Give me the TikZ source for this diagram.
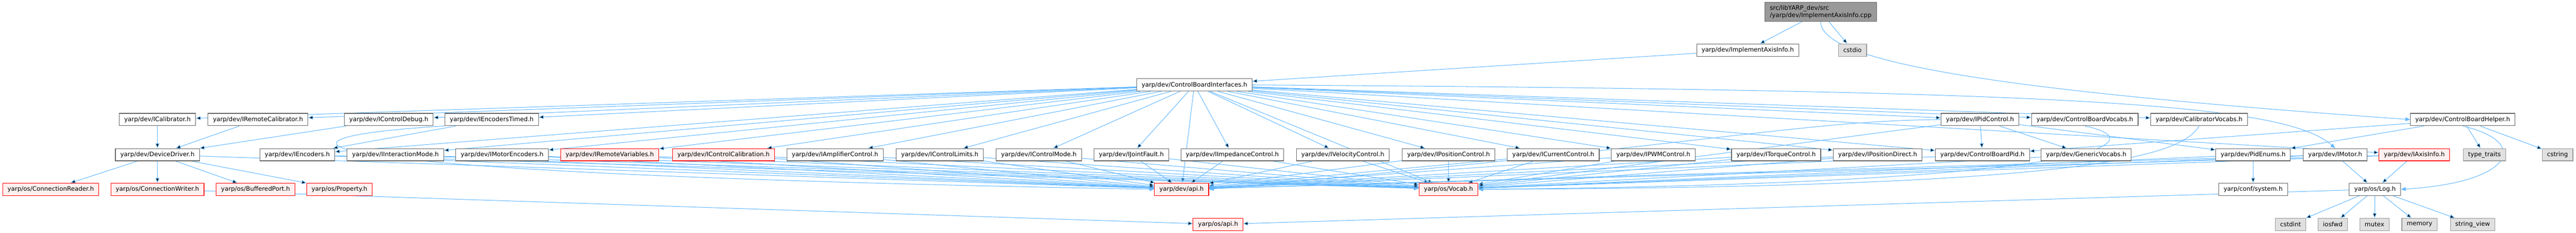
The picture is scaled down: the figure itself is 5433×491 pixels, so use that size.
\documentclass[tikz,border=0pt]{standalone}
\usepackage{fontspec}
\setmainfont{DejaVu Sans}
\usetikzlibrary{arrows.meta,backgrounds}

\definecolor{edgeblue}{HTML}{63B8FF}
\definecolor{boxgray}{HTML}{666666}
\definecolor{truncred}{HTML}{FF0000}
\definecolor{truncfill}{HTML}{FFF0F0}
\definecolor{sysgray}{HTML}{999999}
\definecolor{sysfill}{HTML}{E0E0E0}
\definecolor{rootfill}{HTML}{999999}

% one unit of the picture is one pixel of the reference, drawn at a quarter size
\tikzset{
  hdr/.style={draw=boxgray,fill=white,line width=0.3pt,rectangle,
    minimum height=6.5pt,inner xsep=2.6pt,inner ysep=0pt,
    font=\fontsize{3.225}{3.9}\selectfont},
  trunc/.style={hdr,draw=truncred,fill=truncfill},
  sys/.style={hdr,draw=sysgray,fill=sysfill},
  root/.style={hdr,fill=rootfill,align=left,minimum height=10pt},
  dep/.style={draw=edgeblue,line width=0.28pt,-{Triangle[length=2.5pt,width=2pt]}},
}

\begin{document}
\begin{tikzpicture}[x=0.25pt,y=-0.25pt]
\useasboundingbox (0,0) rectangle (5433,491);

% top
\node[root] (cpp) at (3840,25) {src/libYARP\_dev/src\\/yarp/dev/ImplementAxisInfo.cpp};
\node[hdr] (implaxis) at (3686,105.5) {yarp/dev/ImplementAxisInfo.h};
\node[sys] (cstdio) at (3907,105.5) {cstdio};
\node[hdr] (cbi) at (2519,179) {yarp/dev/ControlBoardInterfaces.h};

% row 3
\node[hdr] (icalib) at (332,252) {yarp/dev/ICalibrator.h};
\node[hdr] (iremcalib) at (544,252) {yarp/dev/IRemoteCalibrator.h};
\node[hdr] (ictrldebug) at (820,252) {yarp/dev/IControlDebug.h};
\node[hdr] (iencodtimed) at (1037,252) {yarp/dev/IEncodersTimed.h};
\node[hdr] (ipidctrl) at (4176,252) {yarp/dev/IPidControl.h};
\node[hdr] (cbvocabs) at (4397,252) {yarp/dev/ControlBoardVocabs.h};
\node[hdr] (calibvocabs) at (4638,252) {yarp/dev/CalibratorVocabs.h};
\node[hdr] (cbhelper) at (5194,252) {yarp/dev/ControlBoardHelper.h};

% row 4
\node[hdr] (devdriver) at (332,326) {yarp/dev/DeviceDriver.h};
\node[hdr] (iencod) at (627,326) {yarp/dev/IEncoders.h};
\node[hdr] (iinteract) at (834,326) {yarp/dev/IInteractionMode.h};
\node[hdr] (imotorenc) at (1059,326) {yarp/dev/IMotorEncoders.h};
\node[trunc] (iremvars) at (1286,326) {yarp/dev/IRemoteVariables.h};
\node[trunc] (ictrlcalib) at (1526,326) {yarp/dev/IControlCalibration.h};
\node[hdr] (iampctrl) at (1761,326) {yarp/dev/IAmplifierControl.h};
\node[hdr] (ictrllimits) at (1982,326) {yarp/dev/IControlLimits.h};
\node[hdr] (ictrlmode) at (2191,326) {yarp/dev/IControlMode.h};
\node[hdr] (ijointfault) at (2386,326) {yarp/dev/IJointFault.h};
\node[hdr] (iimpctrl) at (2599,326) {yarp/dev/IImpedanceControl.h};
\node[hdr] (ivelctrl) at (2832,326) {yarp/dev/IVelocityControl.h};
\node[hdr] (iposctrl) at (3055,326) {yarp/dev/IPositionControl.h};
\node[hdr] (icurctrl) at (3276,326) {yarp/dev/ICurrentControl.h};
\node[hdr] (ipwmctrl) at (3487,326) {yarp/dev/IPWMControl.h};
\node[hdr] (itorqctrl) at (3746,326) {yarp/dev/ITorqueControl.h};
\node[hdr] (iposdirect) at (3960,326) {yarp/dev/IPositionDirect.h};
\node[hdr] (cbpid) at (4181,326) {yarp/dev/ControlBoardPid.h};
\node[hdr] (genvocabs) at (4400,326) {yarp/dev/GenericVocabs.h};
\node[hdr] (pidenums) at (4752,326) {yarp/dev/PidEnums.h};
\node[hdr] (imotor) at (4925,326) {yarp/dev/IMotor.h};
\node[trunc] (iaxisinfo) at (5092,326) {yarp/dev/IAxisInfo.h};
\node[sys] (typetraits) at (5240,326) {type\_traits};
\node[sys] (cstring) at (5394,326) {cstring};

% row 5
\node[trunc] (connreader) at (107,399) {yarp/os/ConnectionReader.h};
\node[trunc] (connwriter) at (332,399) {yarp/os/ConnectionWriter.h};
\node[trunc] (bufport) at (539,399) {yarp/os/BufferedPort.h};
\node[trunc] (property) at (716,399) {yarp/os/Property.h};
\node[trunc] (devapi) at (2492,399) {yarp/dev/api.h};
\node[trunc] (vocab) at (3055,399) {yarp/os/Vocab.h};
\node[hdr] (confsys) at (4752,399) {yarp/conf/system.h};
\node[hdr] (oslog) at (5009,399) {yarp/os/Log.h};

% row 6
\node[trunc] (osapi) at (2569,473) {yarp/os/api.h};
\node[sys] (cstdint) at (4831,473) {cstdint};
\node[sys] (iosfwd) at (4920,473) {iosfwd};
\node[sys] (mutex) at (5008,473) {mutex};
\node[sys] (memory) at (5103,473) {memory};
\node[sys] (stringview) at (5215,473) {string\_view};

\begin{scope}[on background layer]
\path[dep]
  (cpp) edge (implaxis)
  (cpp) edge (cstdio)
  (implaxis) edge (cbi)

  (cbi) edge (icalib)
  (cbi) edge (iremcalib)
  (cbi) edge (ictrldebug)
  (cbi) edge (iencodtimed)
  (cbi) edge (iencod)
  (cbi) edge (iinteract)
  (cbi) edge (imotorenc)
  (cbi) edge (iremvars)
  (cbi) edge (ictrlcalib)
  (cbi) edge (iampctrl)
  (cbi) edge (ictrllimits)
  (cbi) edge (ictrlmode)
  (cbi) edge (ijointfault)
  (cbi) edge (iimpctrl)
  (cbi) edge (ivelctrl)
  (cbi) edge (iposctrl)
  (cbi) edge (icurctrl)
  (cbi) edge (ipwmctrl)
  (cbi) edge (itorqctrl)
  (cbi) edge (iposdirect)
  (cbi) edge (cbpid)
  (cbi) edge (ipidctrl)
  (cbi) edge (cbvocabs)
  (cbi) edge (calibvocabs)
  (cbi) edge (iaxisinfo)
  (cbi) edge (devapi)
  (cbi) edge (vocab)

  (icalib) edge (devdriver)
  (iremcalib) edge (devdriver)
  (ictrldebug) edge (devdriver)
  (iencodtimed) edge (iencod)

  (devdriver) edge (connreader)
  (devdriver) edge (connwriter)
  (devdriver) edge (bufport)
  (devdriver) edge (property)
  (devdriver) edge (devapi)
  (connwriter) edge (osapi)
  ;

\path[dep]
  (iencod) edge (devapi)      (iencod) edge (vocab)
  (iinteract) edge (devapi)   (iinteract) edge (vocab)
  (imotorenc) edge (devapi)   (imotorenc) edge (vocab)
  (iremvars) edge (devapi)    (iremvars) edge (vocab)
  (ictrlcalib) edge (devapi)  (ictrlcalib) edge (vocab)
  (iampctrl) edge (devapi)    (iampctrl) edge (vocab)
  (ictrllimits) edge (devapi) (ictrllimits) edge (vocab)
  (ictrlmode) edge (devapi)   (ictrlmode) edge (vocab)
  (ijointfault) edge (devapi) (ijointfault) edge (vocab)
  (iimpctrl) edge (devapi)    (iimpctrl) edge (vocab)
  (ivelctrl) edge (devapi)    (ivelctrl) edge (vocab)
  (iposctrl) edge (devapi)    (iposctrl) edge (vocab)
  (icurctrl) edge (devapi)    (icurctrl) edge (vocab)
  (ipwmctrl) edge (devapi)    (ipwmctrl) edge (vocab)
  (itorqctrl) edge (devapi)   (itorqctrl) edge (vocab)
  (iposdirect) edge (devapi)  (iposdirect) edge (vocab)

  (ipidctrl) edge (cbpid)
  (ipidctrl) edge (genvocabs)
  (ipidctrl) edge (pidenums)
  (ipidctrl) edge (vocab)
  (cbpid) edge (devapi)
  (genvocabs) edge (vocab)
  (pidenums) edge (confsys)
  (pidenums) edge (vocab)
  (imotor) edge (oslog)
  (imotor) edge (devapi)
  (imotor) edge (vocab)
  (iaxisinfo) edge (oslog)
  (iaxisinfo) edge (devapi)
  (iaxisinfo) edge (vocab)

  (cbhelper) edge (cbpid)
  (cbhelper) edge (pidenums)
  (cbhelper) edge (typetraits)
  (cbhelper) edge (cstring)

  (oslog) edge (osapi)
  (oslog) edge (cstdint)
  (oslog) edge (iosfwd)
  (oslog) edge (mutex)
  (oslog) edge (memory)
  (oslog) edge (stringview)
  ;

% the bent connectors
\draw[dep] (cpp.south) .. controls (3840,130) and (4200,190) .. (cbhelper.west);
\draw[dep] (cbi.east) .. controls (4400,190) and (4820,220) .. (imotor.north);
\draw[dep] (iencodtimed.south west) .. controls (520,290) and (500,365) .. (devapi.west);
\draw[dep] (ipidctrl.west) .. controls (3800,255) and (3650,300) .. (devapi.east);
\draw[dep] (cbvocabs.south) .. controls (4560,300) and (4400,388) .. (vocab.east);
\draw[dep] (calibvocabs.south) .. controls (4600,330) and (4400,395) .. (vocab.east);
\draw[dep] (cbhelper.south) .. controls (5340,300) and (5300,385) .. (oslog.east);
\end{scope}

\end{tikzpicture}
\end{document}
